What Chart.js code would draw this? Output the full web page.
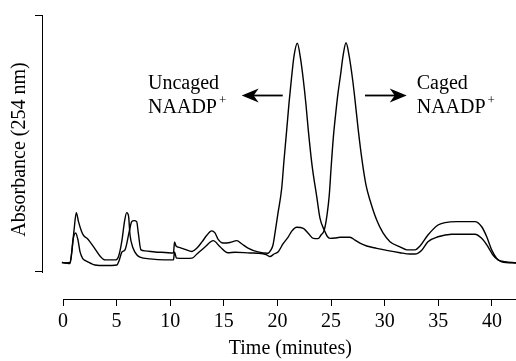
<!DOCTYPE html>
<html>
<head>
<meta charset="utf-8">
<script src="https://cdn.jsdelivr.net/npm/chart.js@4.4.1/dist/chart.umd.min.js"></script>
<style>
  html, body { margin: 0; padding: 0; background: #fff; }
  canvas { display: block; }
</style>
</head>
<body>
<canvas id="hplc" width="516" height="361"></canvas>
<script>
// Trace with the uncaged NAADP+ peak (~22 min)
const timeUncaged = [-0.1, 0.28, 0.65, 0.79, 0.93, 1.18, 1.40, 1.59, 1.86, 2.05, 2.52, 2.98, 3.92, 5.03, 5.22, 5.50, 5.78, 6.15, 6.41, 6.62, 6.87, 7.02, 7.27, 7.65, 8.58, 9.51, 10.30, 10.40, 10.54, 10.91, 11.38, 12.03, 12.49, 12.96, 13.43, 13.86, 14.17, 14.45, 14.92, 15.57, 16.20, 16.69, 17.25, 18.18, 19.11, 19.39, 19.58, 19.77, 20.05, 20.39, 20.61, 20.86, 21.07, 21.32, 21.54, 21.85, 22.14, 22.41, 22.66, 22.87, 23.22, 23.66, 23.96, 24.36, 24.62, 24.90, 25.36, 25.83, 26.76, 27.23, 27.69, 28.32, 29.25, 30.18, 31.42, 32.35, 32.82, 33.47, 34.03, 34.97, 36.24, 37.30, 38.41, 39.04, 39.63, 40.09, 40.56, 41.21, 42.24];
const absUncaged = [3.7, 3.5, 3.3, 6.6, 12.4, 15.2, 12.4, 7.8, 5.1, 4.5, 3.5, 2.7, 2.5, 2.7, 4.3, 7.8, 8.6, 15.2, 19.6, 20.0, 19.6, 15.2, 8.6, 8.2, 7.8, 7.6, 7.4, 11.7, 10.1, 9.5, 8.8, 8.0, 9.3, 11.7, 14.4, 16.0, 15.2, 12.8, 11.3, 11.5, 12.2, 10.9, 9.3, 7.8, 7.3, 8.6, 10.5, 15.2, 23.0, 32.5, 43.6, 55.3, 65.5, 76.0, 84.0, 89.0, 83.3, 74.7, 65.0, 55.3, 41.6, 29.3, 21.0, 16.3, 14.0, 13.1, 13.2, 13.5, 13.5, 12.4, 11.2, 10.1, 9.2, 8.4, 7.5, 7.0, 7.0, 8.6, 11.8, 13.7, 14.7, 14.7, 14.7, 13.1, 9.8, 6.6, 4.7, 4.0, 3.6];

// Trace with the caged NAADP+ peak (~26.5 min)
const timeCaged = [-0.1, 0.28, 0.65, 0.84, 1.03, 1.24, 1.45, 1.74, 1.96, 2.21, 2.52, 2.98, 3.45, 3.92, 4.94, 5.22, 5.50, 5.73, 5.94, 6.11, 6.25, 6.53, 6.90, 7.18, 8.11, 9.51, 10.30, 10.40, 10.58, 11.38, 12.03, 12.49, 13.24, 14.01, 14.64, 15.38, 16.04, 17.44, 18.18, 18.93, 19.30, 19.67, 20.07, 20.51, 21.01, 21.35, 21.79, 22.41, 22.84, 23.34, 23.78, 24.06, 24.36, 24.62, 24.83, 24.99, 25.20, 25.45, 25.64, 25.89, 26.11, 26.39, 26.67, 27.01, 27.23, 27.53, 27.88, 28.25, 28.62, 29.25, 29.84, 30.49, 31.42, 32.07, 32.82, 33.29, 34.03, 34.97, 35.62, 36.71, 38.41, 39.04, 39.51, 39.97, 40.44, 40.90, 42.24];
const absCaged = [3.7, 3.5, 3.7, 8.6, 16.3, 23.1, 19.5, 15.7, 14.0, 13.2, 11.7, 9.0, 6.2, 4.7, 4.7, 6.6, 12.4, 19.5, 23.1, 21.8, 14.4, 9.3, 6.6, 5.8, 5.1, 4.7, 4.7, 7.8, 5.4, 5.3, 5.4, 7.0, 9.7, 12.2, 9.8, 7.5, 7.7, 7.4, 7.3, 6.8, 6.0, 7.0, 7.9, 10.9, 13.7, 16.0, 17.4, 17.0, 15.2, 13.1, 13.0, 14.4, 16.3, 22.2, 30.0, 40.0, 52.0, 62.5, 69.5, 77.0, 84.0, 89.2, 84.4, 74.7, 66.9, 55.3, 43.6, 33.9, 28.0, 20.2, 15.2, 11.8, 9.8, 8.6, 8.6, 10.1, 14.4, 18.3, 19.2, 19.6, 19.6, 17.6, 13.7, 8.6, 5.3, 4.0, 3.5];

// Axis ticks
const timeTicks = [0, 5, 10, 15, 20, 25, 30, 35, 40];
const absTicks = [0, 100];

// Labels near the two main peaks (data units)
const peakNotes = [
  { lines: ["Uncaged", "NAADP"], t: 7.93, v: 73.2, tail: 20.49, tip: 16.66 },
  { lines: ["Caged", "NAADP"], t: 32.98, v: 73.2, tail: 28.16, tip: 32.05 }
];
const xTitle = { text: 'Time (minutes)', t: 21.2 };

const serif = "'Liberation Serif', 'Times New Roman', serif";
const fontSize = 20;

const toPoints = (ts, vs) => ts.map((t, i) => ({ x: t, y: vs[i] }));

// axis lines that do not meet, x title, arrows and labels
const axesAndNotes = {
  id: 'axesAndNotes',
  afterDraw(chart) {
    const { ctx, chartArea } = chart;
    const xs = chart.scales.x, ys = chart.scales.y;
    ctx.save();
    ctx.strokeStyle = '#000';
    ctx.lineWidth = 1;
    // x axis from 0 to right edge
    const yb = Math.round(chartArea.bottom) + 0.5;
    ctx.beginPath();
    ctx.moveTo(Math.round(xs.getPixelForValue(0)), yb);
    ctx.lineTo(chartArea.right, yb);
    ctx.stroke();
    // y axis bracket
    const xl = Math.round(chartArea.left) - 0.5;
    ctx.beginPath();
    ctx.moveTo(xl, Math.round(ys.getPixelForValue(absTicks[1])));
    ctx.lineTo(xl, Math.round(ys.getPixelForValue(absTicks[0])) + 1);
    ctx.stroke();

    ctx.fillStyle = '#000';
    ctx.textBaseline = 'middle';
    ctx.font = fontSize + 'px ' + serif;
    ctx.textAlign = 'center';
    ctx.fillText(xTitle.text, xs.getPixelForValue(xTitle.t), xs.bottom - 12);

    ctx.textAlign = 'left';
    peakNotes.forEach(n => {
      const x = xs.getPixelForValue(n.t);
      const y1 = ys.getPixelForValue(n.v);
      ctx.font = fontSize + 'px ' + serif;
      ctx.fillText(n.lines[0], x, y1);
      const y2 = y1 + 24;
      ctx.fillText(n.lines[1], x, y2);
      const w = ctx.measureText(n.lines[1]).width;
      ctx.font = '13px ' + serif;
      ctx.fillText('+', x + w + 2, y2 - 7);

      // arrow
      const ay = Math.round(ys.getPixelForValue(n.v - 4.3)) + 0.5;
      const xt = xs.getPixelForValue(n.tail), xh = xs.getPixelForValue(n.tip);
      const dir = xh < xt ? 1 : -1;
      ctx.lineWidth = 1.8;
      ctx.beginPath();
      ctx.moveTo(xt, ay);
      ctx.lineTo(xh + dir * 10, ay);
      ctx.stroke();
      ctx.beginPath();
      ctx.moveTo(xh, ay);
      ctx.lineTo(xh + dir * 17, ay - 7);
      ctx.lineTo(xh + dir * 12, ay);
      ctx.lineTo(xh + dir * 17, ay + 7);
      ctx.closePath();
      ctx.fill();
    });
    ctx.restore();
  }
};

const traceStyle = { borderColor: '#000', borderWidth: 1.4, pointRadius: 0, cubicInterpolationMode: 'monotone', fill: false };

new Chart(document.getElementById('hplc'), {
  type: 'line',
  data: {
    datasets: [
      { ...traceStyle, data: toPoints(timeUncaged, absUncaged) },
      { ...traceStyle, data: toPoints(timeCaged, absCaged) }
    ]
  },
  options: {
    responsive: false,
    animation: false,
    devicePixelRatio: 1,
    layout: { padding: 0 },
    plugins: { legend: { display: false }, tooltip: { enabled: false } },
    scales: {
      x: {
        type: 'linear',
        min: -1.865,
        max: 42.24,
        afterBuildTicks: s => { s.ticks = timeTicks.map(v => ({ value: v })); },
        afterFit: s => { s.height = 62; },
        grid: { display: true, drawOnChartArea: false, drawTicks: true, tickLength: 7, color: '#000', lineWidth: 1 },
        border: { display: false },
        ticks: { color: '#000', padding: 4, maxRotation: 0, font: { family: serif, size: fontSize } },
        title: { display: false }
      },
      y: {
        min: -10.51,
        max: 105.84,
        afterBuildTicks: s => { s.ticks = absTicks.map(v => ({ value: v })); },
        afterFit: s => { s.width = 43; },
        grid: { display: true, drawOnChartArea: false, drawTicks: true, tickLength: 8, color: '#000', lineWidth: 1 },
        border: { display: false },
        ticks: { display: false },
        title: { display: true, text: 'Absorbance (254 nm)', color: '#000', padding: { top: 8, bottom: 0 }, font: { family: serif, size: fontSize } }
      }
    }
  },
  plugins: [axesAndNotes]
});
</script>
</body>
</html>
